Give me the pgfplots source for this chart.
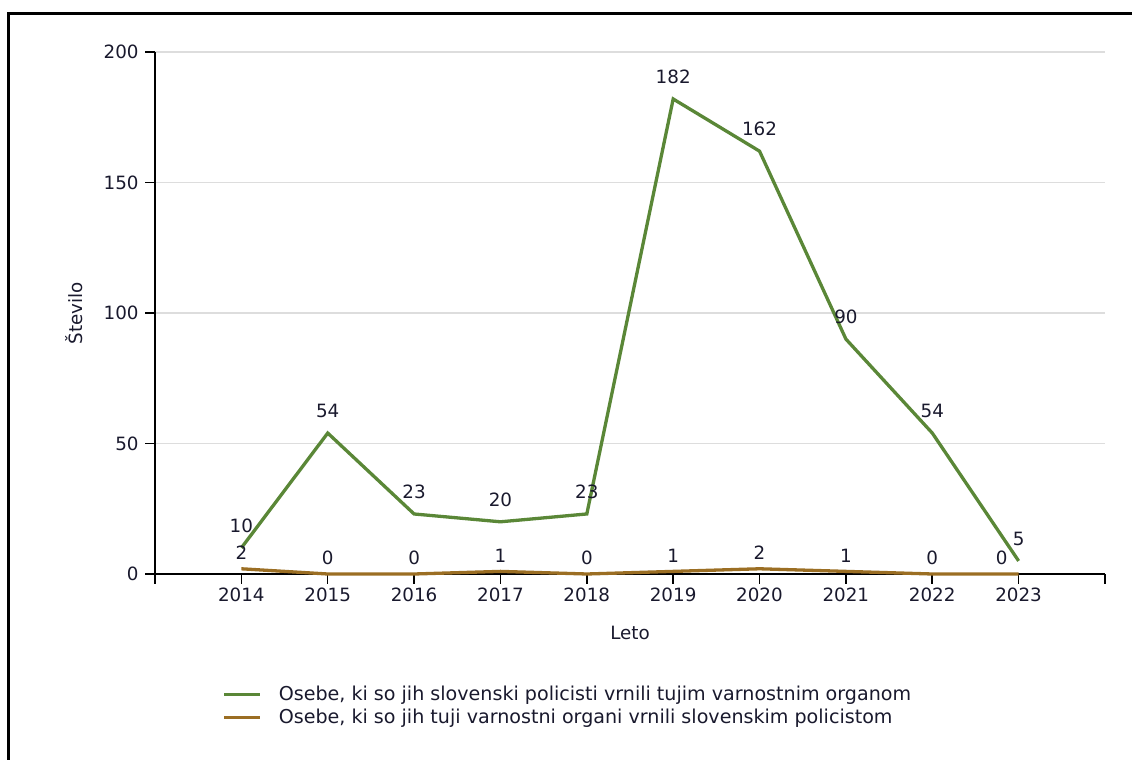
\documentclass[border=0pt]{standalone}
\usepackage{pgfplots}
\pgfplotsset{compat=1.18}
\usepackage{fontspec}
\setmainfont{DejaVu Sans}
\definecolor{cgreen}{RGB}{90,135,55}
\definecolor{cbrown}{RGB}{155,110,35}
\definecolor{ctext}{RGB}{25,25,45}
\definecolor{cgrid}{RGB}{221,221,221}
\newcommand{\cf}{\fontsize{18.3}{21}\selectfont}
\newcommand{\lf}{\fontsize{19.1}{22}\selectfont}
\begin{document}
\begin{tikzpicture}[x=1pt,y=1pt]
\useasboundingbox (0,0) rectangle (1132,760);
\draw[line width=3pt] (8,-5) -- (8,746.5) -- (1140,746.5);
\begin{axis}[
  at={(155pt,186pt)}, anchor=south west,
  scale only axis, width=950pt, height=522pt,
  xmin=2013, xmax=2024, ymin=0, ymax=200,
  axis lines=left, axis line style={-, line width=1.5pt, black},
  xtick={2013,...,2024},
  xticklabels={{},2014,2015,2016,2017,2018,2019,2020,2021,2022,2023,{}},
  ytick={0,50,100,150,200},
  ymajorgrids, grid style={cgrid, line width=1.5pt},
  tick align=outside, major tick length=10pt,
  tick style={black, line width=1.5pt},
  font=\cf,
  tick label style={font=\cf, text=ctext},
  yticklabel style={xshift=-3pt},
  /pgf/number format/assume math mode=true,
  xlabel={Leto}, ylabel={Število},
  label style={text=ctext},
  xlabel style={at={(axis description cs:0.5,-0.113)}, anchor=center},
  ylabel style={at={(axis description cs:-0.0853,0.5)}, anchor=center},
  legend style={at={(axis description cs:0.068,-0.207)}, anchor=north west,
    draw=none, fill=none, font=\lf, text=ctext, row sep=3pt,
    /tikz/every odd column/.append style={column sep=15pt}},
  legend cell align=left,
  legend image code/.code={\draw[#1,line width=3pt] (0pt,0pt) -- (36pt,0pt);},
  clip=false,
]
\addplot[cgreen, line width=3.3pt, nodes near coords,
  every node near coord/.append style={anchor=south, inner sep=0pt, yshift=13.5pt, text=ctext, font=\cf}]
  coordinates {(2014,10) (2015,54) (2016,23) (2017,20) (2018,23) (2019,182) (2020,162) (2021,90) (2022,54) (2023,5)};
\addlegendentry{Osebe, ki so jih slovenski policisti vrnili tujim varnostnim organom}
\addplot[cbrown, line width=3.3pt]
  coordinates {(2014,2) (2015,0) (2016,0) (2017,1) (2018,0) (2019,1) (2020,2) (2021,1) (2022,0) (2023,0)};
\addlegendentry{Osebe, ki so jih tuji varnostni organi vrnili slovenskim policistom}
\addplot[draw=none, forget plot, nodes near coords,
  every node near coord/.append style={anchor=south, inner sep=0pt, yshift=9pt, text=ctext, font=\cf}]
  coordinates {(2014,2) (2015,0) (2016,0) (2017,1) (2018,0) (2019,1) (2020,2) (2021,1) (2022,0)};
\addplot[draw=none, forget plot, nodes near coords,
  every node near coord/.append style={anchor=south, inner sep=0pt, yshift=9pt, xshift=-17pt, text=ctext, font=\cf}]
  coordinates {(2023,0)};
\end{axis}
\end{tikzpicture}
\end{document}
